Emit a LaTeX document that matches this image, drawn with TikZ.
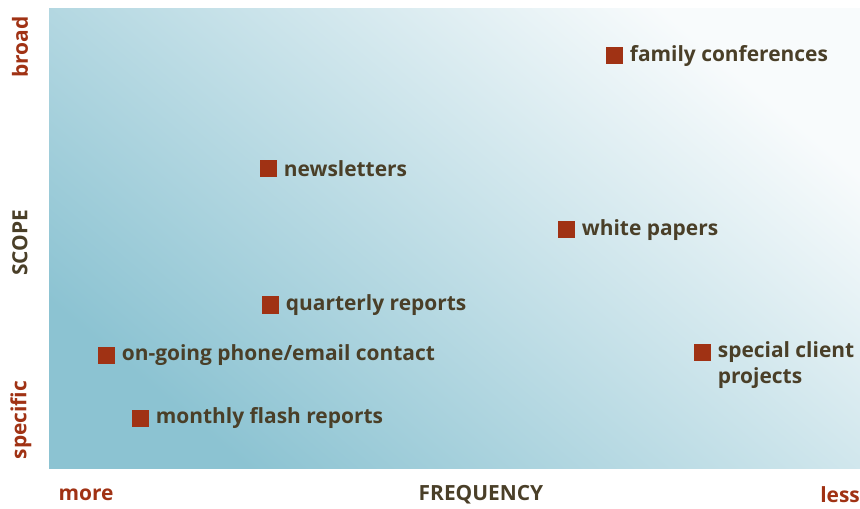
\documentclass[tikz,border=0pt]{standalone}
\usepackage{fontspec}
\setmainfont{Open Sans}
\definecolor{markred}{RGB}{160,50,20}
\definecolor{itemtext}{RGB}{74,63,40}
\definecolor{bluedark}{RGB}{140,195,210}
\definecolor{bluelight}{RGB}{248,251,252}
\begin{document}
\begin{tikzpicture}[x=1bp,y=-1bp]
% Styles
\tikzstyle{marker}=[fill=markred,minimum size=17bp,inner sep=0pt]
\tikzstyle{item}=[text=itemtext,font=\fontsize{21}{26}\selectfont\bfseries,inner sep=0pt,anchor=west,align=left]
\tikzstyle{axis}=[font=\fontsize{21}{26}\selectfont\bfseries,inner sep=0pt]

\useasboundingbox (0,0) rectangle (860,509);

% background field
\shade[left color=bluedark,right color=bluelight,shading angle=140] (49,9) rectangle (860,468);

% draw the items
\foreach \x/\y/\name/\txt in {614/56/family/{family conferences},
268/169/news/{newsletters},
566/230/white/{white papers},
270/305/quarter/{quarterly reports},
106/355/ongoing/{on-going phone/email contact},
140/418/monthly/{monthly flash reports}} {
\node[marker] (\name) at (\x,\y) {};
\node[item] (\name-t) at ([xshift=7bp]\name.east) {\txt};
}
\node[marker] (special) at (702,352) {};
\node[item] (special-t) at ([xshift=7bp,yshift=-13bp]special.east) {special client\\projects};

% axis labels
\node[axis,text=markred,rotate=90] (broad) at (20,47) {broad};
\node[axis,text=itemtext,rotate=90] (scope) at (20,243) {SCOPE};
\node[axis,text=markred,rotate=90] (specific) at (21,420) {specific};
\node[axis,text=markred] (more) at (86,495) {more};
\node[axis,text=itemtext] (freq) at (481,495) {FREQUENCY};
\node[axis,text=markred,anchor=east] (less) at (860,495) {less};
\end{tikzpicture}
\end{document}
